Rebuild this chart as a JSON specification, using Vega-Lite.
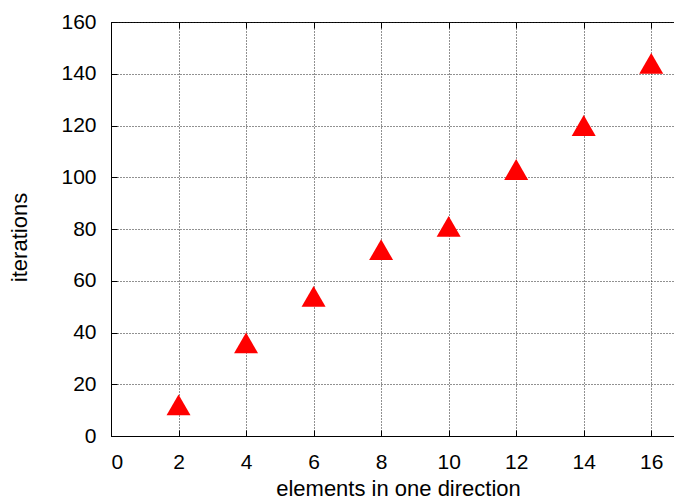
{
  "$schema": "https://vega.github.io/schema/vega-lite/v6.json",
  "autosize": "none",
  "padding": {"left": 111, "top": 22, "right": 0, "bottom": 64},
  "width": 574,
  "height": 414,
  "background": "white",
  "config": {
    "view": {"stroke": "black", "strokeWidth": 1},
    "font": "Liberation Sans",
    "axis": {
      "labelFont": "Liberation Sans",
      "titleFont": "Liberation Sans",
      "labelFontSize": 21,
      "titleFontSize": 22,
      "titleFontWeight": "normal",
      "labelColor": "black",
      "titleColor": "black",
      "domainColor": "black",
      "tickColor": "black",
      "tickWidth": 1,
      "gridColor": "#222222",
      "gridDash": [1, 2],
      "gridWidth": 1,
      "gridOpacity": 1
    }
  },
  "data": {
    "values": [
      {"elements": 2, "iterations": 12},
      {"elements": 4, "iterations": 36},
      {"elements": 6, "iterations": 54},
      {"elements": 8, "iterations": 72},
      {"elements": 10, "iterations": 81},
      {"elements": 12, "iterations": 103},
      {"elements": 14, "iterations": 120},
      {"elements": 16, "iterations": 144}
    ]
  },
  "layer": [
    {
      "mark": {"type": "point", "shape": "triangle-up", "filled": true, "color": "#ff0000", "opacity": 1, "size": 576},
      "encoding": {
        "x": {
          "field": "elements", "type": "quantitative",
          "scale": {"domain": [0, 17], "nice": false, "zero": true},
          "axis": {
            "title": "elements in one direction",
            "values": [0, 2, 4, 6, 8, 10, 12, 14, 16],
            "tickSize": -6, "labelPadding": 21,
            "grid": true,
            "titleY": 59, "titleBaseline": "alphabetic"
          }
        },
        "y": {
          "field": "iterations", "type": "quantitative",
          "scale": {"domain": [0, 160], "nice": false},
          "axis": {
            "title": "iterations",
            "values": [0, 20, 40, 60, 80, 100, 120, 140, 160],
            "tickSize": -6, "labelPadding": 21,
            "grid": true,
            "titleX": -92, "titleY": 215, "titleAngle": -90,
            "titleAlign": "center", "titleBaseline": "middle"
          }
        }
      }
    },
    {
      "mark": {"type": "point", "opacity": 0},
      "encoding": {
        "x": {
          "field": "elements", "type": "quantitative",
          "axis": {
            "orient": "top", "title": null, "labels": false, "domain": false,
            "grid": false, "values": [0, 2, 4, 6, 8, 10, 12, 14, 16], "tickSize": -6
          }
        }
      }
    }
  ],
  "resolve": {"axis": {"x": "independent"}}
}
